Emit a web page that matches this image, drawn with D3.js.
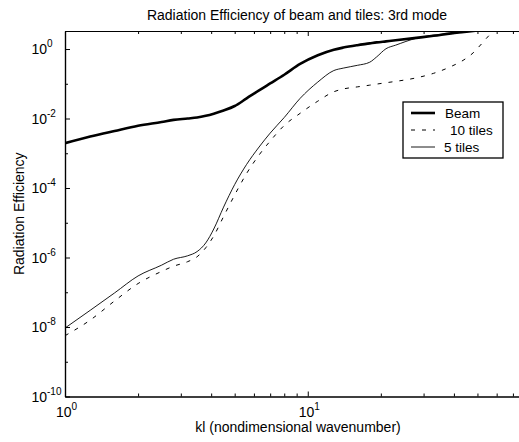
<!DOCTYPE html>
<html><head><meta charset="utf-8">
<script src="https://cdn.jsdelivr.net/npm/d3@7"></script>
<style>
body{margin:0;background:#fff}
text{font-family:"Liberation Sans",Arial,Helvetica,sans-serif;fill:#000}
</style>
</head><body>
<svg id="c" width="519" height="442"></svg>
<script>
// ---- data ----
const kl      = [1, 1.27, 1.6, 2.0, 2.5, 2.8, 3.2, 3.5, 3.8, 4.1, 4.5, 5.0, 5.6, 6.3, 7.0, 8.0, 9.3, 11, 12.8, 14, 16, 18, 19.2, 21, 23, 28, 33, 39, 44, 48, 52, 56, 60, 70, 80];
const beam    = [1.95e-3, 3.02e-3, 4.37e-3, 6.17e-3, 7.94e-3, 9.12e-3, 1.0e-2, 1.07e-2, 1.20e-2, 1.38e-2, 1.70e-2, 2.29e-2, 3.80e-2, 6.46e-2, 1.02e-1, 1.82e-1, 3.72e-1, 6.61e-1, 0.955, 1.10, 1.29, 1.45, 1.55, 1.66, 1.78, 2.09, 2.40, 2.82, 3.09, 3.31, 3.55, 3.80, 3.98, 4.47, 5.01];
const tiles10 = [5.62e-9, 1.58e-8, 5.62e-8, 1.78e-7, 3.98e-7, 5.62e-7, 7.59e-7, 1.05e-6, 1.91e-6, 4.17e-6, 1.51e-5, 6.31e-5, 2.63e-4, 8.91e-4, 2.24e-3, 6.31e-3, 1.41e-2, 3.16e-2, 5.89e-2, 7.08e-2, 8.13e-2, 9.12e-2, 9.77e-2, 1.07e-1, 1.17e-1, 1.48e-1, 2.00e-1, 3.16e-1, 4.90e-1, 7.76e-1, 1.41, 2.51, 3.80, 4.47, 5.01];
const tiles5  = [9.33e-9, 3.02e-8, 9.55e-8, 2.95e-7, 6.03e-7, 8.91e-7, 1.12e-6, 1.48e-6, 2.63e-6, 6.61e-6, 2.82e-5, 1.26e-4, 4.79e-4, 1.51e-3, 3.80e-3, 1.07e-2, 3.80e-2, 1.12e-1, 2.40e-1, 2.82e-1, 3.39e-1, 4.17e-1, 5.89e-1, 1.02, 1.29, 2.04, 2.51, 2.82, 3.09, 3.31, 3.55, 3.80, 3.98, 4.47, 5.01];
const seriesNames = ["Beam", "10 tiles", "5 tiles"];

const xLimits = [1, 80];
const yLimits = [1e-10, 3.3];
const xMajorTicks = [1, 10];
const xMajorExp = ["0", "1"];
const xMinorTicks = [2, 3, 4, 5, 6, 7, 8, 9, 20, 30, 40, 50, 60, 70];
const yMajorTicks = [1, 1e-2, 1e-4, 1e-6, 1e-8, 1e-10];
const yMajorExp = ["0", "-2", "-4", "-6", "-8", "-10"];
const yMinorTicks = [1e-1, 1e-3, 1e-5, 1e-7, 1e-9];

const titleText = "Radiation Efficiency of beam and tiles: 3rd mode";
const xLabel = "kl (nondimensional wavenumber)";
const yLabel = "Radiation Efficiency";

// ---- layout ----
const L = 65, R = 527, T = 31, B = 396.5;
const svg = d3.select("#c");
const x = d3.scaleLog().domain(xLimits).range([L, R]);
const y = d3.scaleLog().domain(yLimits).range([B, T]);

svg.append("defs").append("clipPath").attr("id", "clip")
  .append("rect").attr("x", L).attr("y", T).attr("width", R - L).attr("height", B - T);

function styleAxis(g) {
  g.select(".domain").attr("stroke", "#000").attr("stroke-width", 1.2);
  g.selectAll(".tick line").attr("stroke", "#000").attr("stroke-width", 1);
}

// bottom axis
svg.append("g").attr("transform", `translate(0,${B})`)
  .call(d3.axisBottom(x).tickValues(xMinorTicks).tickSizeInner(-3).tickSizeOuter(0).tickFormat(() => ""))
  .call(styleAxis);
svg.append("g").attr("transform", `translate(0,${B})`)
  .call(d3.axisBottom(x).tickValues(xMajorTicks).tickSizeInner(-5).tickSizeOuter(0).tickFormat(() => ""))
  .call(styleAxis);
// top axis
svg.append("g").attr("transform", `translate(0,${T})`)
  .call(d3.axisTop(x).tickValues(xMinorTicks).tickSizeInner(-3).tickSizeOuter(0).tickFormat(() => ""))
  .call(styleAxis);
svg.append("g").attr("transform", `translate(0,${T})`)
  .call(d3.axisTop(x).tickValues(xMajorTicks).tickSizeInner(-5).tickSizeOuter(0).tickFormat(() => ""))
  .call(styleAxis);
// left axis
svg.append("g").attr("transform", `translate(${L},0)`)
  .call(d3.axisLeft(y).tickValues(yMinorTicks).tickSizeInner(-3).tickSizeOuter(0).tickFormat(() => ""))
  .call(styleAxis);
svg.append("g").attr("transform", `translate(${L},0)`)
  .call(d3.axisLeft(y).tickValues(yMajorTicks).tickSizeInner(-5).tickSizeOuter(0).tickFormat(() => ""))
  .call(styleAxis);

// x tick labels
xMajorTicks.forEach((v, i) => {
  const t = svg.append("text").attr("x", x(v) - 9).attr("y", 417).attr("font-size", 14);
  t.append("tspan").text("10");
  t.append("tspan").attr("dy", -7).attr("font-size", 10).text(xMajorExp[i]);
});
// y tick labels
yMajorTicks.forEach((v, i) => {
  svg.append("text").attr("x", 47).attr("y", y(v) + 5).attr("font-size", 14)
    .attr("text-anchor", "end").text("10");
  svg.append("text").attr("x", 47).attr("y", y(v) - 2).attr("font-size", 10)
    .text(yMajorExp[i]);
});

// titles
svg.append("text").attr("x", 297).attr("y", 20).attr("font-size", 14)
  .attr("text-anchor", "middle").text(titleText);
svg.append("text").attr("x", 298).attr("y", 432).attr("font-size", 14)
  .attr("text-anchor", "middle").text(xLabel);
svg.append("text").attr("transform", `translate(24,${(T + B) / 2}) rotate(-90)`)
  .attr("font-size", 14).attr("text-anchor", "middle").text(yLabel);

// lines
const line = d3.line().x(d => x(d[0])).y(d => y(d[1])).curve(d3.curveMonotoneX);
const series = [
  {name: seriesNames[0], vals: beam,    w: 2.6, dash: null},
  {name: seriesNames[1], vals: tiles10, w: 1.0, dash: "4,7"},
  {name: seriesNames[2], vals: tiles5,  w: 0.9, dash: null}
];
const plot = svg.append("g").attr("clip-path", "url(#clip)");
series.forEach(s => {
  plot.append("path").datum(kl.map((k, i) => [k, s.vals[i]]))
    .attr("d", line).attr("fill", "none").attr("stroke", "#000")
    .attr("stroke-width", s.w).attr("stroke-dasharray", s.dash);
});

// legend
const lg = svg.append("g");
lg.append("rect").attr("x", 403).attr("y", 102).attr("width", 100).attr("height", 56)
  .attr("fill", "#fff").attr("stroke", "#000").attr("stroke-width", 1.3);
const rowsY = [113, 130, 147];
const textX = [445, 450, 444];
series.forEach((s, i) => {
  lg.append("line").attr("x1", 411).attr("x2", 435).attr("y1", rowsY[i]).attr("y2", rowsY[i])
    .attr("stroke", "#000").attr("stroke-width", s.w).attr("stroke-dasharray", s.dash);
  lg.append("text").attr("x", textX[i]).attr("y", rowsY[i] + 5).attr("font-size", 13.5).text(s.name);
});
</script>
</body></html>
